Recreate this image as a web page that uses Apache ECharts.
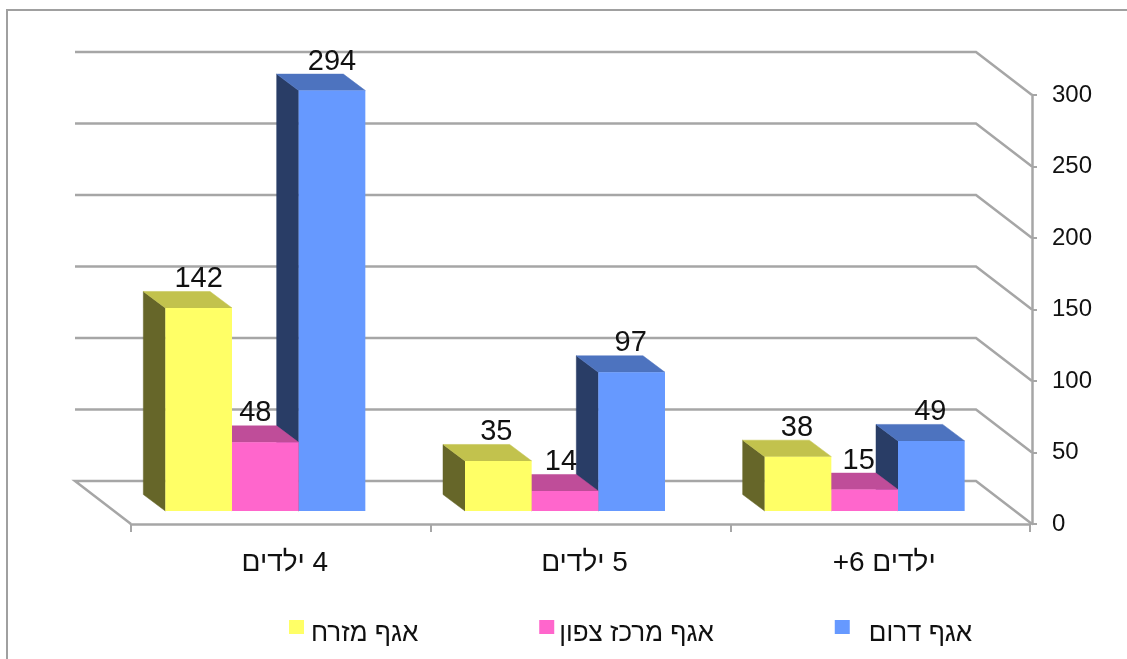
<!DOCTYPE html>
<html><head><meta charset="utf-8">
<style>html,body{margin:0;padding:0;background:#fff}#c{width:1127px;height:659px;filter:blur(0.55px)}</style>
<script src="https://cdn.jsdelivr.net/npm/echarts@6/dist/echarts.min.js"></script>
</head><body><div id="c"></div>
<script>
const categories = ['\u200F4 ילדים', '\u200F5 ילדים', '+6 ילדים'];
const seriesNames = ['אגף מזרח', 'אגף מרכז צפון', 'אגף דרום'];
const east = [142, 35, 38];
const centerNorth = [48, 14, 15];
const south = [294, 97, 49];
const yTicks = [0, 50, 100, 150, 200, 250, 300];

const seriesValues = [east, centerNorth, south];
const faceColors = ['#FFFF66', '#FF66CC', '#6699FF'];
const sideColors = ['#666629', '#BF4D99', '#293D66'];
const topColors = ['#C2C24D', '#BF4D99', '#4D73BF'];
const labelNudge = [[0, -2, -1], [-10, -4, -6], [0, -1, -1]];
const legendTextLeft = [2, 0, 14];
const WALL = [-56, -43], INSET = [-15.5, -13], DEPTH = [-22, -16.5];
const VALUE_AXIS_OFFSET = 2;
const GRID_COLOR = '#A6A6A6';

function bar(si) {
  return function (params, api) {
    const cat = api.value(0), val = api.value(1);
    const top = api.coord([cat, val]), base = api.coord([cat, 0]);
    const w = 200 / 3;
    const xl = top[0] + INSET[0] + (si - 1.5) * w, xr = xl + w;
    const yt = top[1] + INSET[1], yb = base[1] + INSET[1];
    const [dx, dy] = DEPTH;
    const poly = (pts, fill) => ({ type: 'polygon', shape: { points: pts }, style: { fill: fill, stroke: fill, lineWidth: 0.5 } });
    return { type: 'group', children: [
      poly([[xl, yt], [xl + dx, yt + dy], [xl + dx, yb + dy], [xl, yb]], sideColors[si]),
      poly([[xl, yt], [xl + dx, yt + dy], [xr + dx, yt + dy], [xr, yt]], topColors[si]),
      { type: 'rect', shape: { x: xl, y: yt, width: w, height: yb - yt }, style: { fill: faceColors[si] } },
      { type: 'text', z2: 10, style: { text: String(val), x: (xl + xr) / 2 + labelNudge[si][cat], y: yt + dy + 2, align: 'center', verticalAlign: 'bottom', font: '29px "Liberation Sans"', fill: '#111' } }
    ] };
  };
}
function gridLine(params, api) {
  const v = api.value(0);
  const cs = params.coordSys;
  const y = api.coord([0, v])[1];
  const x0 = cs.x, x1 = cs.x + cs.width + VALUE_AXIS_OFFSET;
  const pts = [[x0 + WALL[0], y + WALL[1]], [x1 + WALL[0], y + WALL[1]], [x1, y]];
  if (v === 0) pts.unshift([x0, y]);
  return { type: 'polyline', shape: { points: pts }, style: { fill: 'none', stroke: GRID_COLOR, lineWidth: 2.5 } };
}
const chart = echarts.init(document.getElementById('c'), null, { renderer: 'canvas' });
chart.setOption({
  animation: false,
  backgroundColor: '#fff',
  textStyle: { fontFamily: '"Liberation Sans"' },
  graphic: [{ type: 'polyline', silent: true, shape: { points: [[1127, 10], [7, 10], [7, 659]] }, style: { fill: 'none', stroke: '#A0A0A0', lineWidth: 2 } }],
  grid: { left: 131, right: 97, top: 95, bottom: 135 },
  xAxis: { type: 'category', data: categories, boundaryGap: true,
    axisLine: { lineStyle: { color: GRID_COLOR, width: 2.5 } },
    axisTick: { show: true, alignWithLabel: false, interval: 0, length: 8, lineStyle: { color: GRID_COLOR, width: 2 } },
    axisLabel: { fontSize: 28, color: '#111', margin: 25, fontFamily: '"Liberation Sans"', padding: [0, 0, 0, 8] } },
  yAxis: { type: 'value', min: 0, max: 300, interval: 50, position: 'right', offset: VALUE_AXIS_OFFSET,
    splitLine: { show: false },
    axisLine: { show: true, lineStyle: { color: GRID_COLOR, width: 2.5 } },
    axisTick: { show: true, length: 5, lineStyle: { color: GRID_COLOR, width: 2 } },
    axisLabel: { fontSize: 24, color: '#111', margin: 20, fontFamily: '"Liberation Sans"' } },
  legend: { left: 284, top: 615, itemWidth: 15, itemHeight: 28, itemGap: 121,
    icon: 'path://M0,0h15v14h-15zM0,28h15',
    data: seriesNames.map((n, i) => ({ name: n, textStyle: { padding: [0, 0, 0, legendTextLeft[i]] } })),
    textStyle: { fontSize: 26, color: '#111', fontFamily: '"Liberation Sans"' } },
  series: [
    { type: 'custom', silent: true, z: 1, data: yTicks.map(v => [v]), renderItem: gridLine, encode: { y: 0 } },
    ...seriesValues.map((vals, si) => ({
      type: 'custom', name: seriesNames[si], z: 5 - si, itemStyle: { color: faceColors[si] },
      data: vals.map((v, i) => [i, v]), encode: { x: 0, y: 1 }, renderItem: bar(si)
    }))
  ]
});
</script></body></html>
